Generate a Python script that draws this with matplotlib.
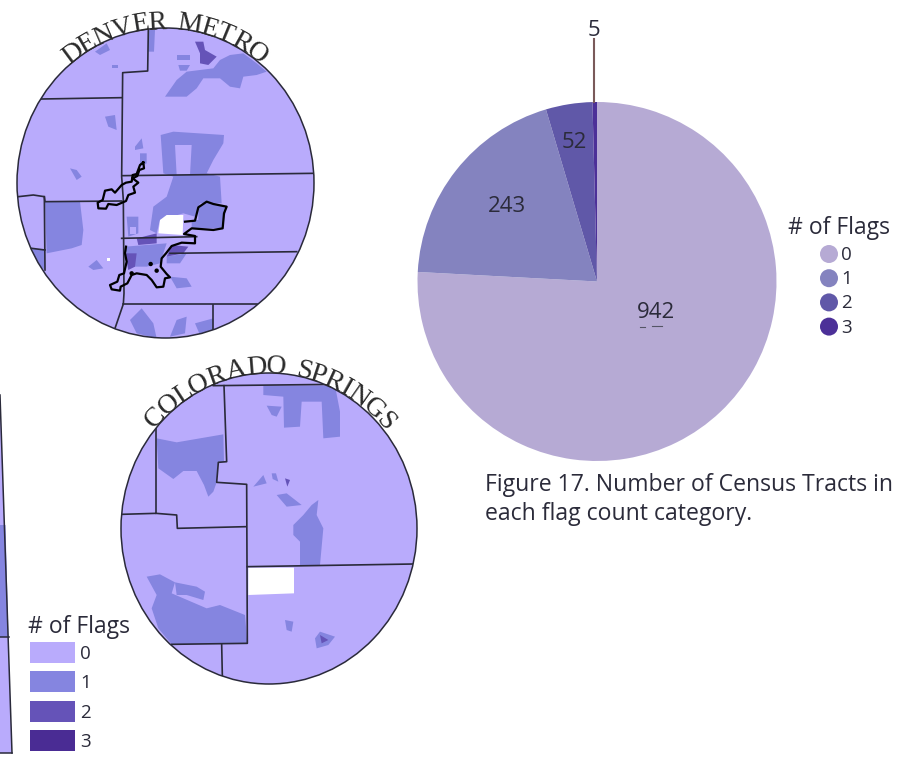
import numpy as np
import matplotlib
matplotlib.use('Agg')
import matplotlib.pyplot as plt
from matplotlib.patches import Ellipse, Polygon, Rectangle, Circle
from matplotlib.textpath import TextPath
from matplotlib.font_manager import FontProperties

# pie values
flag_labels = ['0', '1', '2', '3']
tract_counts = [942, 243, 52, 5]
pie_colors = ['#b6aad4', '#8483bf', '#6058a8', '#4c3098']
map_colors = ['#b9abfc', '#8585e0', '#6553b8', '#4a2c94']

denver_flag1 = [
    [(495,290),(530,240),(560,215),(640,205),(660,180),(690,165),(730,160),(770,190),(800,215),(770,225),(730,230),(720,265),(690,260),(660,235),(610,235),(590,265),(560,290)],
    [(285,155),(320,130),(330,150),(300,165)],
    [(335,195),(355,195),(355,205),(335,205)],
    [(445,90),(465,90),(462,155),(445,155)],
    [(530,165),(570,165),(570,180),(530,180)],
    [(535,195),(570,195),(560,212),(540,212)],
    [(482,405),(520,395),(672,405),(670,430),(640,480),(620,520),(660,530),(665,610),(600,610),(585,650),(550,640),(480,660),(470,700),(450,690),(460,620),(500,590),(520,530),(490,520)],
    [(595,620),(620,605),(680,620),(668,685),(575,685),(575,660),(595,660)],
    [(135,605),(240,605),(250,690),(245,735),(215,745),(140,760)],
    [(265,800),(290,780),(310,805),(280,810)],
    [(210,505),(230,510),(245,530),(230,540)],
    [(315,350),(345,345),(350,390),(325,380)],
    [(405,440),(425,415),(430,445),(405,450)],
    [(420,460),(440,460),(440,490),(420,500)],
    [(95,745),(135,750),(135,810),(110,790)],
    [(390,960),(425,925),(460,970),(470,1015),(410,1000)],
    [(530,960),(560,950),(555,1000),(510,1010)],
    [(585,970),(640,955),(640,990),(600,1005)],
    [(380,650),(415,650),(415,700),(385,710)],
    [(375,740),(500,730),(480,790),(440,800),(390,800)],
    [(500,770),(560,760),(540,790),(500,790)],
    [(510,830),(560,835),(575,860),(530,865)],
]
denver_flag0_holes = [
    [(525,435),(575,435),(570,525),(530,525)],
    [(390,680),(408,680),(408,703),(390,703)],
]
denver_flag2 = [
    [(585,125),(610,125),(615,150),(650,170),(625,195),(600,190),(600,160)],
    [(410,715),(470,700),(470,730),(415,735)],
    [(515,735),(565,740),(550,760),(500,770)],
    [(375,760),(410,760),(405,800),(385,810)],
]
denver_blank = [
    [(480,660),(500,645),(550,645),(548,705),(475,700)],
    [(320,775),(330,775),(330,783),(320,783)],
]
denver_counties = [
    [(445,88),(443,213),(368,218),(365,530),(370,600),(372,880),(370,912),(345,985)],
    [(125,297),(365,293)],
    [(368,527),(940,520)],
    [(55,590),(100,585),(133,590),(135,605),(365,603)],
    [(133,590),(135,810)],
    [(95,745),(135,750)],
    [(365,715),(590,710)],
    [(510,760),(890,755)],
    [(370,912),(770,912)],
    [(640,915),(640,990)],
]
denver_city = [
    [(430,487),(432,505),(418,510),(412,528),(398,535),(415,548),(400,560),(405,578),(385,585),(378,603),(350,615),(325,612),(318,626),(295,625),(293,608),(308,600),(315,572),(335,568),(345,578),(365,555),(378,548),(395,545),(398,525),(410,522),(420,495),(430,487)],
    [(555,665),(585,662),(595,622),(620,605),(640,612),(680,620),(672,640),(668,685),(640,690),(575,685),(552,702),(585,708),(585,730),(545,728),(515,738),(498,760),(485,775),(482,800),(500,822),(510,832),(495,835),(490,860),(470,862),(455,840),(440,825),(410,820),(395,825),(382,850),(362,860),(360,872),(335,868),(330,855),(352,845),(358,825),(372,820),(380,785),(375,760),(378,740)],
]
denver_dots = [(452,792),(470,812),(395,820)]

# colorado springs map shapes
springs_flag1 = [
    [(790,122),(1005,122),(1020,200),(1020,275),(970,280),(965,170),(905,170),(900,245),(852,248),(850,155),(790,150)],
    [(800,182),(845,185),(830,215),(815,210)],
    [(470,280),(530,292),(600,280),(670,268),(672,350),(655,352),(650,412),(640,440),(625,455),(612,420),(590,378),(550,378),(520,402),(475,370)],
    [(440,695),(480,688),(525,712),(515,745),(620,790),(660,780),(735,810),(742,895),(515,898),(475,850),(455,790),(470,750)],
    [(525,712),(590,725),(615,740),(610,765),(560,750),(530,750)],
    [(880,540),(910,510),(935,480),(955,465),(950,510),(970,550),(960,660),(900,660),(900,590),(880,570)],
    [(830,450),(860,445),(905,480),(860,485)],
    [(760,425),(790,390),(800,415)],
    [(855,825),(880,830),(875,860),(860,855)],
    [(945,880),(960,860),(1005,875),(985,900),(950,910)],
    [(815,385),(828,385),(835,410),(818,402)],
]
springs_flag2 = [
    [(855,400),(870,405),(862,425)],
    [(960,870),(985,885),(965,895)],
]
springs_blank = [
    [(745,668),(882,668),(882,745),(745,750)],
]
springs_counties = [
    [(640,122),(1010,118)],
    [(672,122),(680,350),(655,352),(650,412),(740,418),(742,895),(515,898)],
    [(468,250),(468,505),(365,508)],
    [(468,505),(530,510),(532,550),(738,545)],
    [(742,665),(1240,657)],
    [(665,898),(667,992)],
]

# bit of a third map cut off at the left edge
strip_light = [(0,395),(12,753),(0,753)]
strip_dark = [(0,525),(5.5,525),(8.5,637),(0,637)]

denver_title = 'DENVER METRO'
springs_title = 'COLORADO SPRINGS'
legend_title = '# of Flags'
caption_lines = ['Figure 17. Number of Census Tracts in', 'each flag count category.']

sans = 'Open Sans'
text_color = '#2b2b3a'
line_color = '#2a2a3a'

fig = plt.figure(figsize=(9.07, 7.57), dpi=100)
ax = fig.add_axes([0, 0, 1, 1])
ax.set_xlim(0, 907)
ax.set_ylim(757, 0)
ax.axis('off')


def denver_xy(pts):
    return [(x / 3.0, y / 3.0) for x, y in pts]


def springs_xy(pts):
    return [(x / 3.0, 345 + y / 3.0) for x, y in pts]


def draw_map(cx, cy, rx, ry, conv, fills, lines):
    disc = Ellipse((cx, cy), 2 * rx, 2 * ry, fc=map_colors[0], ec='none', zorder=1)
    ax.add_patch(disc)
    for shapes, color in fills:
        for pts in shapes:
            p = Polygon(conv(pts), closed=True, fc=color, ec='none', zorder=2)
            ax.add_patch(p)
            p.set_clip_path(disc)
    for pts in lines:
        xy = np.array(conv(pts))
        l, = ax.plot(xy[:, 0], xy[:, 1], color=line_color, lw=1.2, zorder=3)
        l.set_clip_path(disc)
    ax.add_patch(Ellipse((cx, cy), 2 * rx, 2 * ry, fc='none', ec=line_color, lw=1.1, zorder=4))


def curved_text(s, cx, cy, rx, ry, start, end, size):
    # letters one by one along the top of the ellipse
    fp = FontProperties(family='Liberation Serif', size=size)
    widths = [TextPath((0, 0), c, prop=fp).get_extents().width if c != ' ' else size * 0.35 for c in s]
    widths = np.array(widths) + size * 0.03
    edges = np.concatenate([[0], np.cumsum(widths)])
    mids = (edges[:-1] + edges[1:]) / 2.0 / edges[-1]
    for c, m in zip(s, mids):
        th = np.radians(start + (end - start) * m)
        x = cx + rx * np.sin(th)
        y = cy - ry * np.cos(th)
        ax.text(x, y, c, family='Liberation Serif', fontsize=size, color='#2b2b2b', ha='center', va='baseline',
                rotation=-np.degrees(th), rotation_mode='anchor', zorder=6)


draw_map(165.5, 183, 148.5, 155, denver_xy,
         [(denver_flag1, map_colors[1]), (denver_flag0_holes, map_colors[0]),
          (denver_flag2, map_colors[2]), (denver_blank, 'white')],
         denver_counties)
for pts in denver_city:
    xy = np.array(denver_xy(pts))
    ax.plot(xy[:, 0], xy[:, 1], color='black', lw=1.6, zorder=5)
for p in denver_xy(denver_dots):
    ax.add_patch(Circle(p, 2.2, fc='black', ec='none', zorder=5))
curved_text(denver_title, 165.5, 183, 149, 154, -40, 39.5, 20)

draw_map(269, 528.5, 148, 155.5, springs_xy,
         [(springs_flag1, map_colors[1]), (springs_flag2, map_colors[2]), (springs_blank, 'white')],
         springs_counties)
curved_text(springs_title, 269, 528.5, 149, 155, -50, 51, 20)

# cut off map at left
ax.add_patch(Polygon(strip_light, closed=True, fc=map_colors[0], ec='none', zorder=1))
ax.add_patch(Polygon(strip_dark, closed=True, fc=map_colors[1], ec='none', zorder=2))
ax.plot([0, 12], [395, 753], color=line_color, lw=1.1, zorder=3)
ax.plot([0, 8.5], [637, 637], color=line_color, lw=1.1, zorder=3)
ax.plot([0, 12], [753, 753], color=line_color, lw=1.1, zorder=3)

# map legend
ax.text(28, 627, legend_title, family=sans, fontsize=16.5, color=text_color, ha='left', va='center')
for i, lab in enumerate(flag_labels):
    y0 = 642 + i * 29.3
    ax.add_patch(Rectangle((30, y0), 45, 21, fc=map_colors[i], ec='none', zorder=2))
    ax.text(80, y0 + 12, lab, family=sans, fontsize=13.5, color=text_color, ha='left', va='center')

# pie
pie_cx, pie_cy, pie_r = 597, 281.5, 179.5
pie_ax = fig.add_axes([(pie_cx - pie_r) / 907, 1 - (pie_cy + pie_r) / 757, 2 * pie_r / 907, 2 * pie_r / 757])
pie_ax.pie(tract_counts, colors=pie_colors, startangle=90, counterclock=False, radius=1.0,
           wedgeprops={'linewidth': 0})
pie_ax.set_xlim(-1, 1)
pie_ax.set_ylim(-1, 1)

pie_label_pos = [(656, 313), (507, 207), (574, 143), (594, 30)]
for count, (x, y) in zip(tract_counts, pie_label_pos):
    ax.text(x, y, str(count), family=sans, fontsize=16, color=text_color, ha='center', va='center', zorder=8)
ax.set_zorder(5)
ax.patch.set_visible(False)
ax.plot([593.5, 593.5], [39, 102], color='#7a5a5a', lw=1.5, zorder=7)
ax.plot([640, 645], [326.5, 326.5], color='#555566', lw=0.8, zorder=7)
ax.plot([652, 662], [326, 326], color='#555566', lw=0.8, zorder=7)

# pie legend
ax.text(838.5, 228, legend_title, family=sans, fontsize=16.5, color=text_color, ha='center', va='center')
for i, lab in enumerate(flag_labels):
    y0 = 254 + i * 24.2
    ax.add_patch(Ellipse((829, y0), 18, 18, fc=pie_colors[i], ec='none'))
    ax.text(841, y0 + 1, lab, family=sans, fontsize=13.5, color=text_color, ha='left', va='center')

# caption
ax.text(485, 485, caption_lines[0], family=sans, fontsize=16.6, color=text_color, ha='left', va='center')
ax.text(485, 514, caption_lines[1], family=sans, fontsize=16.6, color=text_color, ha='left', va='center')

fig.savefig('out.png', dpi=100, facecolor='white')
